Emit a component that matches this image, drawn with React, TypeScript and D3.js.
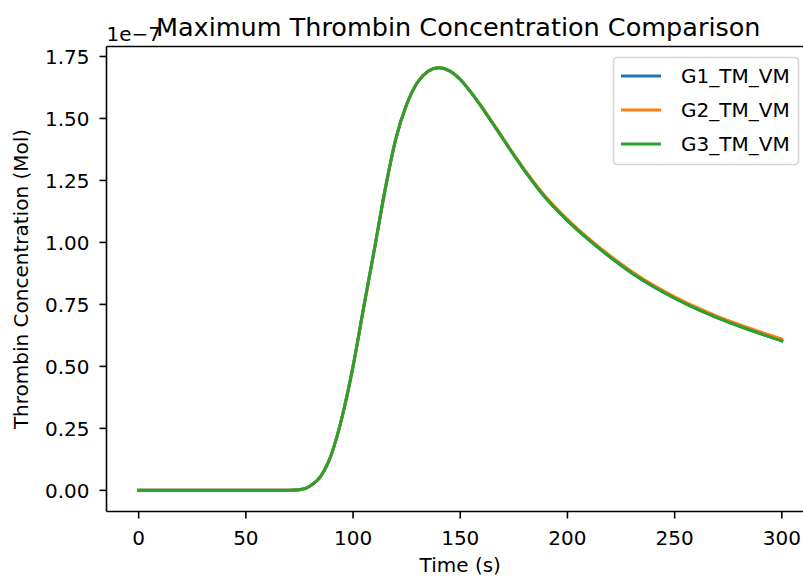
import React from "react";
import * as d3 from "d3";

const times = [0, 10, 20, 30, 40, 50, 60, 70, 75, 80, 85, 90, 95, 100, 105, 110, 115, 120, 125, 130, 135, 140, 145, 150, 155, 160, 165, 170, 175, 180, 190, 200, 210, 220, 230, 240, 250, 260, 270, 280, 290, 300];

const g1 = [0, 0, 0, 0, 0, 0, 0, 0, 0.002, 0.018, 0.058, 0.148, 0.3, 0.5, 0.74, 0.975, 1.215, 1.42, 1.556, 1.645, 1.69, 1.705, 1.692, 1.657, 1.605, 1.546, 1.482, 1.417, 1.352, 1.29, 1.178, 1.088, 1.01, 0.94, 0.877, 0.822, 0.775, 0.733, 0.696, 0.663, 0.632, 0.603];
const g2 = [0, 0, 0, 0, 0, 0, 0, 0, 0.002, 0.018, 0.058, 0.148, 0.3, 0.5, 0.74, 0.975, 1.215, 1.42, 1.556, 1.645, 1.69, 1.705, 1.692, 1.658, 1.606, 1.548, 1.484, 1.42, 1.355, 1.294, 1.183, 1.093, 1.015, 0.945, 0.883, 0.828, 0.781, 0.739, 0.702, 0.669, 0.639, 0.61];
const g3 = [0, 0, 0, 0, 0, 0, 0, 0, 0.002, 0.018, 0.058, 0.148, 0.3, 0.5, 0.74, 0.975, 1.215, 1.42, 1.556, 1.645, 1.69, 1.705, 1.692, 1.657, 1.605, 1.546, 1.482, 1.417, 1.352, 1.29, 1.178, 1.088, 1.01, 0.94, 0.877, 0.822, 0.775, 0.733, 0.696, 0.663, 0.632, 0.603];

const seriesNames = ["G1_TM_VM", "G2_TM_VM", "G3_TM_VM"];
const seriesColors = ["#1f77b4", "#ff7f0e", "#2ca02c"];
const xTicks = [0, 50, 100, 150, 200, 250, 300];
const yTicks = [0, 0.25, 0.5, 0.75, 1.0, 1.25, 1.5, 1.75];

const W = 803;
const H = 579;
const left = 106.5;
const right = 814;
const top = 46.5;
const bottom = 511.5;

export default function App() {
  const x = d3.scaleLinear().domain([-15, 315]).range([left, right]);
  const yMax = 1.705;
  const y = d3
    .scaleLinear()
    .domain([-0.05 * yMax, yMax * 1.05])
    .range([bottom, top]);
  const line = d3
    .line<number>()
    .x((_, i) => x(times[i]))
    .y((d) => y(d))
    .curve(d3.curveMonotoneX);
  const all = [g1, g2, g3];
  const font = "DejaVu Sans, sans-serif";
  const cx = (left + right) / 2;

  return (
    <svg
      width={W}
      height={H}
      style={{ position: "absolute", left: 0, top: 0, background: "#fff" }}
      fontFamily={font}
    >
      <rect x={0} y={0} width={W} height={H} fill="#fff" />
      <defs>
        <clipPath id="plotclip">
          <rect x={left} y={top} width={right - left} height={bottom - top} />
        </clipPath>
      </defs>
      <g clipPath="url(#plotclip)">
        {all.map((s, i) => (
          <path
            key={i}
            d={line(s) || ""}
            fill="none"
            stroke={seriesColors[i]}
            strokeWidth={3}
            strokeLinejoin="round"
            strokeLinecap="square"
          />
        ))}
      </g>
      {/* spines */}
      <line x1={left} x2={left} y1={top} y2={bottom} stroke="#000" strokeWidth={1.6} />
      <line x1={left} x2={W} y1={bottom} y2={bottom} stroke="#000" strokeWidth={1.6} />
      <line x1={left} x2={W} y1={top} y2={top} stroke="#000" strokeWidth={1.6} />
      {/* x ticks */}
      {xTicks.map((t) => (
        <g key={t}>
          <line x1={x(t)} x2={x(t)} y1={bottom} y2={bottom + 7} stroke="#000" strokeWidth={1.6} />
          <text x={x(t)} y={bottom + 33} fontSize={20} textAnchor="middle" fill="#000">
            {String(t)}
          </text>
        </g>
      ))}
      {/* y ticks */}
      {yTicks.map((t) => (
        <g key={t}>
          <line x1={left - 7} x2={left} y1={y(t)} y2={y(t)} stroke="#000" strokeWidth={1.6} />
          <text x={left - 17} y={y(t)} dy="0.36em" fontSize={20} textAnchor="end" fill="#000">
            {t.toFixed(2)}
          </text>
        </g>
      ))}
      <text x={left} y={41} fontSize={20} fill="#000">1e−7</text>
      <text x={cx - 2} y={36} fontSize={25.5} textAnchor="middle" fill="#000">
        Maximum Thrombin Concentration Comparison
      </text>
      <text x={cx} y={572} fontSize={20} textAnchor="middle" fill="#000">
        Time (s)
      </text>
      <text
        transform={`translate(28,${(top + bottom) / 2}) rotate(-90)`}
        fontSize={20}
        textAnchor="middle"
        fill="#000"
      >
        Thrombin Concentration (Mol)
      </text>
      {/* legend */}
      <rect x={613.5} y={57.5} width={185} height={107} rx={4} fill="#fff" fillOpacity={0.8} stroke="#d6d6d6" strokeWidth={1.6} />
      {seriesNames.map((n, i) => (
        <g key={n}>
          <line x1={621} x2={661} y1={76 + i * 34} y2={76 + i * 34} stroke={seriesColors[i]} strokeWidth={3} />
          <text x={681} y={76 + i * 34} dy="0.36em" fontSize={20} fill="#000">
            {n}
          </text>
        </g>
      ))}
    </svg>
  );
}
